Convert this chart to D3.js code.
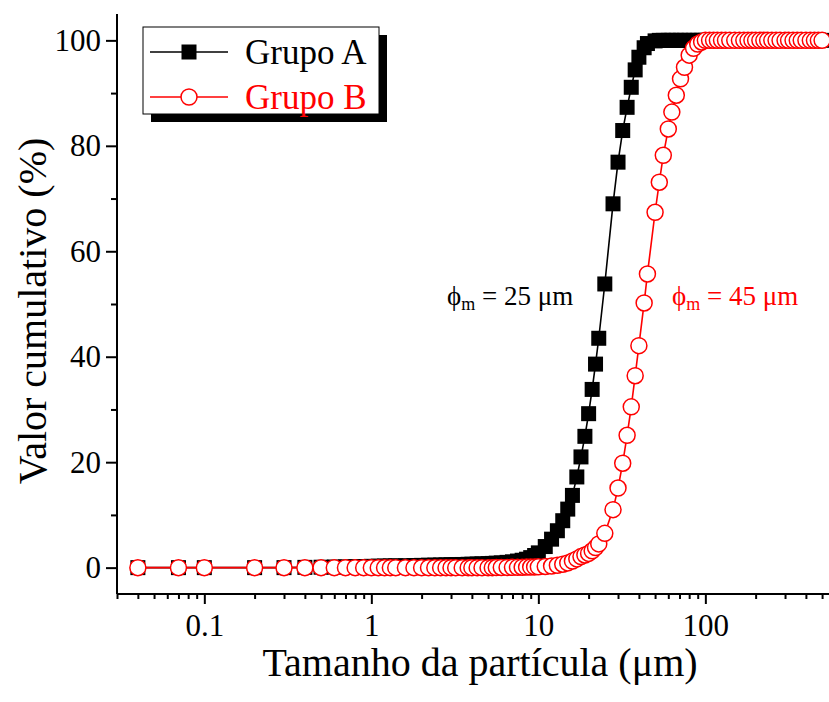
<!DOCTYPE html>
<html>
<head>
<meta charset="utf-8">
<script src="https://cdn.jsdelivr.net/npm/d3@7"></script>
<style>
  body { margin: 0; background: #fff; }
  svg text { font-family: "Liberation Serif", "Times New Roman", serif !important; }
</style>
</head>
<body>
<div class="vis-cumulative"></div>
<script>
// particle size classes (µm)
const sizes = [
  0.04, 0.07, 0.1, 0.2, 0.3, 0.4, 0.5, 0.6, 0.7, 0.8, 0.9,
  1.0, 1.1, 1.2, 1.3, 1.4, 1.6, 1.8, 2.0, 2.2, 2.4, 2.6, 2.8, 3.0, 3.2, 3.5, 3.8, 4.0, 4.3, 4.6, 5.0,
  5.3, 5.6, 6.0, 6.5, 7.0, 7.5, 8.0, 8.5, 9.0, 9.5,
  10, 11, 12, 13, 14, 15, 16, 17, 18, 19, 20, 21, 22, 23, 25, 28, 30, 32, 34, 36, 38, 40, 43, 45,
  50, 53, 56, 60, 63, 67, 71, 75, 80, 85, 90, 95,
  100, 106, 112, 118, 125, 132, 140, 150, 160, 170, 180, 190, 200, 212, 224, 236, 250, 265, 280,
  300, 315, 335, 355, 375, 400, 425, 450, 475, 500
];

// cumulative % - Grupo A
const grupoA = [
  0, 0, 0, 0, 0, 0.05, 0.08, 0.12, 0.15, 0.18, 0.2,
  0.25, 0.28, 0.3, 0.32, 0.34, 0.37, 0.4, 0.43, 0.46, 0.48, 0.5, 0.52, 0.55, 0.57, 0.6, 0.63, 0.65, 0.68, 0.72, 0.76,
  0.8, 0.85, 0.9, 1.0, 1.1, 1.25, 1.4, 1.6, 1.9, 2.3,
  2.8, 4.0, 5.4, 7.0, 8.9, 11.1, 13.7, 17.2, 21.0, 24.9, 29.2, 33.8, 38.6, 43.5, 53.8, 69.0, 76.9, 82.9, 87.3, 91.1, 94.4, 96.8, 98.6, 99.4,
  99.9, 100, 100, 100, 100, 100, 100, 100, 100, 100, 100, 100,
  100, 100, 100, 100, 100, 100, 100, 100, 100, 100, 100, 100, 100, 100, 100, 100, 100, 100, 100,
  100, 100, 100, 100, 100, 100, 100, 100, 100, 100
];

// cumulative % - Grupo B
const grupoB = [
  0, 0, 0, 0, 0, 0, 0, 0, 0, 0, 0,
  0, 0, 0, 0, 0, 0, 0, 0, 0, 0, 0, 0, 0, 0, 0, 0, 0, 0, 0, 0,
  0, 0.02, 0.03, 0.04, 0.05, 0.06, 0.08, 0.1, 0.12, 0.14,
  0.15, 0.22, 0.3, 0.45, 0.65, 0.9, 1.25, 1.65, 2.1, 2.4, 2.7, 3.2, 3.8, 4.5, 6.5, 11.0, 15.1, 19.8, 25.1, 30.5, 36.4, 42.1, 50.2, 55.7,
  67.4, 73.1, 78.2, 83.2, 86.4, 89.6, 92.7, 94.9, 97.2, 98.5, 99.3, 99.7,
  100, 100, 100, 100, 100, 100, 100, 100, 100, 100, 100, 100, 100, 100, 100, 100, 100, 100, 100,
  100, 100, 100, 100, 100, 100, 100, 100, 100, 100
];

const xMajor = [0.1, 1, 10, 100];
const yMajor = [0, 20, 40, 60, 80, 100];
const yMinor = [10, 30, 50, 70, 90];

const seriesNames = ["Grupo A", "Grupo B"];
const seriesColors = ["#000000", "#ff0000"];

const W = 829, H = 702;
const margin = {top: 14, right: 0, bottom: 108, left: 117};

const svg = d3.select(".vis-cumulative")
  .append("svg")
    .attr("width", W)
    .attr("height", H);

const x = d3.scaleLog()
  .domain([0.03, 550])
  .range([margin.left, W - margin.right]);

const y = d3.scaleLinear()
  .domain([-5, 105])
  .range([H - margin.bottom, margin.top]);

// minor x ticks: 2..9 in each decade
const xMinor = [];
[0.01, 0.1, 1, 10, 100].forEach(d => {
  for (let k = 2; k <= 9; k++) {
    const v = +(d * k).toPrecision(3);
    if (v >= 0.03 && v <= 550) xMinor.push(v);
  }
});

// X axis
const gx = svg.append("g")
  .attr("transform", "translate(0," + (H - margin.bottom) + ")");
gx.call(d3.axisBottom(x).tickValues(xMinor).tickSize(5).tickFormat(""));
gx.append("g").call(d3.axisBottom(x).tickValues(xMajor).tickSize(10).tickPadding(10)
    .tickFormat(d => d3.format("~g")(d)));
gx.selectAll("path.domain").attr("stroke-width", 2).attr("d", "M" + margin.left + ",0H" + W);
gx.selectAll("line").attr("stroke-width", 2);
gx.selectAll("text")
  .style("font-size", "31px")
  .attr("fill", "#000");

// Y axis
const gy = svg.append("g")
  .attr("transform", "translate(" + margin.left + ",0)");
gy.call(d3.axisLeft(y).tickValues(yMinor).tickSize(6).tickFormat(""));
gy.append("g").call(d3.axisLeft(y).tickValues(yMajor).tickSize(11).tickPadding(5));
gy.selectAll("path.domain").attr("stroke-width", 2).attr("d", "M0," + margin.top + "V" + (H - margin.bottom));
gy.selectAll("line").attr("stroke-width", 2);
gy.selectAll("text")
  .style("font-size", "31px")
  .attr("fill", "#000");

// axis titles
svg.append("text")
  .attr("x", 480)
  .attr("y", 676)
  .attr("text-anchor", "middle")
  .style("font-size", "40px")
  .text("Tamanho da partícula (μm)");

svg.append("text")
  .attr("transform", "translate(46," + 311 + ") rotate(-90)")
  .attr("text-anchor", "middle")
  .style("font-size", "40px")
  .text("Valor cumulativo (%)");

// data
const dataA = sizes.map((s, i) => ({s: s, v: grupoA[i]}));
const dataB = sizes.map((s, i) => ({s: s, v: grupoB[i]}));

const line = d3.line()
  .x(d => x(d.s))
  .y(d => y(d.v));

const sq = 15, rad = 8;

// Grupo A
svg.append("path")
  .datum(dataA)
  .attr("fill", "none")
  .attr("stroke", seriesColors[0])
  .attr("stroke-width", 1.6)
  .attr("d", line);
svg.append("g")
  .selectAll("rect")
  .data(dataA)
  .enter()
  .append("rect")
    .attr("x", d => x(d.s) - sq / 2)
    .attr("y", d => y(d.v) - sq / 2)
    .attr("width", sq)
    .attr("height", sq)
    .attr("fill", seriesColors[0]);

// Grupo B
svg.append("path")
  .datum(dataB)
  .attr("fill", "none")
  .attr("stroke", seriesColors[1])
  .attr("stroke-width", 1.6)
  .attr("d", line);
svg.append("g")
  .selectAll("circle")
  .data(dataB)
  .enter()
  .append("circle")
    .attr("cx", d => x(d.s))
    .attr("cy", d => y(d.v))
    .attr("r", rad)
    .attr("fill", "#fff")
    .attr("stroke", seriesColors[1])
    .attr("stroke-width", 1.5);

// annotations
const ann = [
  {x: 447, y: 305, c: seriesColors[0], t: "25"},
  {x: 672, y: 305, c: seriesColors[1], t: "45"}
];
ann.forEach(a => {
  const t = svg.append("text")
    .attr("x", a.x)
    .attr("y", a.y)
    .attr("fill", a.c)
    .style("font-size", "27px");
  t.append("tspan").text("ϕ");
  t.append("tspan").style("font-size", "18px").attr("dy", 5).text("m");
  t.append("tspan").attr("dy", -5).text(" = " + a.t + " μm");
});

// legend
const lg = svg.append("g");
lg.append("rect")
  .attr("x", 151).attr("y", 35)
  .attr("width", 236).attr("height", 87)
  .attr("fill", "#000");
lg.append("rect")
  .attr("x", 143).attr("y", 27)
  .attr("width", 236).attr("height", 87)
  .attr("fill", "#fff")
  .attr("stroke", "#000")
  .attr("stroke-width", 1);

seriesNames.forEach((name, i) => {
  const cy = 52 + i * 45;
  lg.append("line")
    .attr("x1", 150).attr("x2", 228)
    .attr("y1", cy).attr("y2", cy)
    .attr("stroke", seriesColors[i])
    .attr("stroke-width", 1.6);
  if (i === 0) {
    lg.append("rect")
      .attr("x", 189 - sq / 2).attr("y", cy - sq / 2)
      .attr("width", sq).attr("height", sq)
      .attr("fill", seriesColors[i]);
  } else {
    lg.append("circle")
      .attr("cx", 189).attr("cy", cy).attr("r", rad)
      .attr("fill", "#fff")
      .attr("stroke", seriesColors[i])
      .attr("stroke-width", 1.5);
  }
  lg.append("text")
    .attr("x", 245)
    .attr("y", cy + 12)
    .attr("fill", seriesColors[i])
    .style("font-size", "35px")
    .text(name);
});
</script>
</body>
</html>
